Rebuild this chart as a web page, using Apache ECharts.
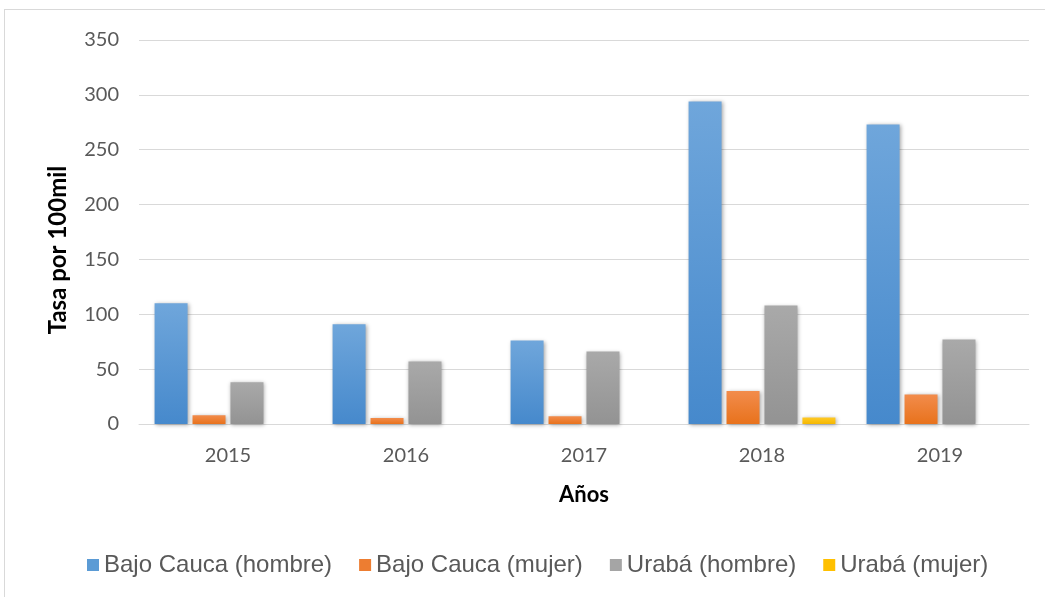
<!DOCTYPE html>
<html>
<head>
<meta charset="utf-8">
<script src="https://cdn.jsdelivr.net/npm/echarts@6/dist/echarts.min.js"></script>
<style>
  html, body { margin: 0; padding: 0; background: #fff; }
  #frame { position: absolute; left: 4px; top: 9px; width: 1045px; height: 597px;
           border-left: 1px solid #d9d9d9; border-top: 1px solid #d9d9d9; }
  #chart { position: absolute; left: 0; top: 0; width: 1045px; height: 597px; }
</style>
</head>
<body>
<div id="frame"></div>
<div id="chart"></div>
<script>
// datos
var years = ['2015', '2016', '2017', '2018', '2019'];
var bajoCaucaHombre = [110, 91, 76, 294, 273];
var bajoCaucaMujer = [8, 5.5, 7, 30, 27];
var urabaHombre = [38, 57, 66, 108, 77];
var urabaMujer = [0, 0, 0, 6, 0];
var yTicks = [0, 50, 100, 150, 200, 250, 300, 350];

var chart = echarts.init(document.getElementById('chart'));

function grad(top, bottom) {
  return new echarts.graphic.LinearGradient(0, 0, 0, 1, [
    { offset: 0, color: top },
    { offset: 1, color: bottom }
  ]);
}

function bar(name, data, top, bottom) {
  return {
    name: name,
    type: 'bar',
    data: data,
    barWidth: 33,
    barGap: '15%',
    itemStyle: {
      color: grad(top, bottom),
      shadowColor: 'rgba(0,0,0,0.35)',
      shadowBlur: 4,
      shadowOffsetX: 1,
      shadowOffsetY: 1
    },
    emphasis: { disabled: true }
  };
}

var axisFont = 'Lato, "Open Sans", sans-serif';

var option = {
  animation: false,
  grid: { left: 139, right: 16, top: 40, bottom: 173 },
  legend: {
    bottom: 15,
    left: 82,
    itemWidth: 12,
    itemHeight: 12,
    itemGap: 27,
    icon: 'rect',
    textStyle: { fontFamily: 'Liberation Sans, Arial', fontSize: 24, color: '#595959' },
    data: [
      { name: 'Bajo Cauca (hombre)', itemStyle: { color: '#5b9bd5' } },
      { name: 'Bajo Cauca (mujer)', itemStyle: { color: '#ed7d31' } },
      { name: 'Urabá (hombre)', itemStyle: { color: '#a5a5a5' } },
      { name: 'Urabá (mujer)', itemStyle: { color: '#ffc000' } }
    ]
  },
  xAxis: {
    type: 'category',
    data: years,
    name: 'Años',
    nameLocation: 'middle',
    nameGap: 60,
    nameTextStyle: { fontFamily: axisFont, fontSize: 22, fontWeight: 'bold', color: '#000' },
    axisLine: { lineStyle: { color: '#d9d9d9', width: 1 } },
    axisTick: { show: false },
    axisLabel: { fontFamily: axisFont, fontSize: 20, color: '#595959', margin: 22 }
  },
  yAxis: {
    type: 'value',
    min: yTicks[0],
    max: yTicks[yTicks.length - 1],
    interval: 50,
    name: 'Tasa por 100mil',
    nameLocation: 'middle',
    nameGap: 69,
    nameTextStyle: {
      fontFamily: axisFont, fontSize: 24, fontWeight: 'bold', color: '#000',
      padding: [0, 36, 0, 0]
    },
    axisLine: { show: false },
    axisTick: { show: false },
    axisLabel: { fontFamily: axisFont, fontSize: 20, color: '#595959', margin: 20 },
    splitLine: { lineStyle: { color: '#d9d9d9', width: 1 } }
  },
  series: [
    bar('Bajo Cauca (hombre)', bajoCaucaHombre, '#6fa6db', '#4689cc'),
    bar('Bajo Cauca (mujer)', bajoCaucaMujer, '#f28c4c', '#e8721c'),
    bar('Urabá (hombre)', urabaHombre, '#a9a9a9', '#939393'),
    bar('Urabá (mujer)', urabaMujer, '#ffc926', '#f5b800')
  ]
};

chart.setOption(option);
</script>
</body>
</html>
